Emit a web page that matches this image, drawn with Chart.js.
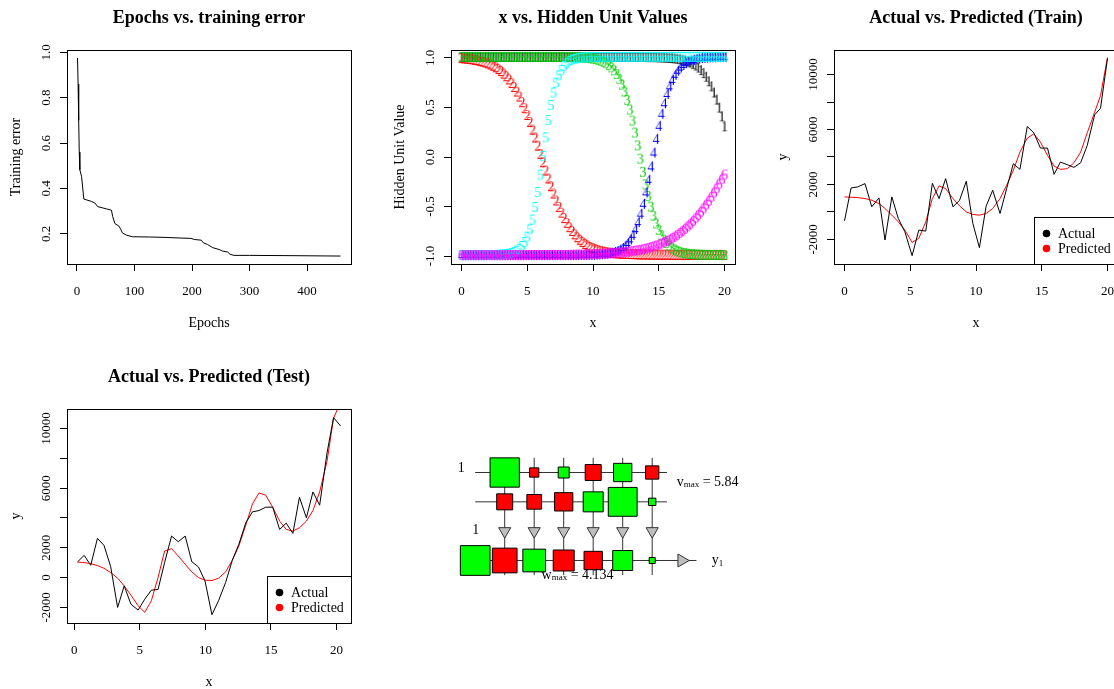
<!DOCTYPE html>
<html><head><meta charset="utf-8">
<script src="https://cdn.jsdelivr.net/npm/chart.js@4.4.1/dist/chart.umd.min.js"></script>
<style>
html,body{margin:0;padding:0;overflow:hidden;background:#fff;width:1114px;height:689px;position:relative;}
canvas{position:absolute;}
</style></head><body>
<canvas id="c1" width="384" height="359" style="left:0;top:0"></canvas>
<canvas id="c2" width="384" height="359" style="left:384px;top:0"></canvas>
<canvas id="c3" width="384" height="359" style="left:767px;top:0"></canvas>
<canvas id="c4" width="384" height="359" style="left:0;top:359px"></canvas>
<canvas id="c5" width="384" height="359" style="left:384px;top:359px"></canvas>
<script>
// ---------------- DATA ----------------
// Panel 1: epochs vs training error
const epochs = [1,2,3,4,5,8,12,16,25,31,36,45,51,60,62,66,73,76,79,86,97,126,155,184,198,204,216,220,227,236,247,253,262,266,273,300,360,458];
const trainError = [0.975,0.86,0.70,0.56,0.482,0.453,0.353,0.35,0.343,0.336,0.32,0.314,0.31,0.304,0.277,0.245,0.234,0.22,0.204,0.194,0.187,0.186,0.184,0.181,0.18,0.175,0.172,0.16,0.153,0.139,0.131,0.124,0.12,0.11,0.105,0.105,0.104,0.102];
const p1XTicks = [0,100,200,300,400];
const p1YTicks = [0.2,0.4,0.6,0.8,1.0];
const p1YLabels = ['0.2','0.4','0.6','0.8','1.0'];

// Panel 2: x vs hidden unit values
const hiddenX = [
0,0.2,0.4,0.6,0.8,1,1.2,1.4,1.6,1.8,
2,2.2,2.4,2.6,2.8,3,3.2,3.4,3.6,3.8,
4,4.2,4.4,4.6,4.8,5,5.2,5.4,5.6,5.8,
6,6.2,6.4,6.6,6.8,7,7.2,7.4,7.6,7.8,
8,8.2,8.4,8.6,8.8,9,9.2,9.4,9.6,9.8,
10,10.2,10.4,10.6,10.8,11,11.2,11.4,11.6,11.8,
12,12.2,12.4,12.6,12.8,13,13.2,13.4,13.6,13.8,
14,14.2,14.4,14.6,14.8,15,15.2,15.4,15.6,15.8,
16,16.2,16.4,16.6,16.8,17,17.2,17.4,17.6,17.8,
18,18.2,18.4,18.6,18.8,19,19.2,19.4,19.6,19.8,
20];
const hidden1 = [
1,1,1,1,1,1,1,1,1,1,
1,1,1,1,1,1,1,1,1,1,
1,1,1,1,1,1,1,1,1,1,
1,1,1,1,1,1,1,1,1,1,
1,1,1,1,1,1,1,1,1,1,
1,1,1,1,1,1,1,1,1,1,
1,1,1,1,1,1,1,1,1,1,
0.999,0.998,0.998,0.998,0.997,0.996,0.995,0.994,0.992,0.99,
0.988,0.985,0.982,0.977,0.971,0.964,0.955,0.944,0.93,0.914,
0.893,0.867,0.837,0.8,0.755,0.703,0.641,0.57,0.489,0.4,
0.3];
const hidden2 = [
0.988,0.985,0.983,0.98,0.976,0.971,0.967,0.96,0.953,0.945,
0.935,0.924,0.911,0.896,0.878,0.857,0.832,0.805,0.773,0.738,
0.697,0.651,0.6,0.543,0.482,0.414,0.343,0.266,0.187,0.105,
0.021,-0.063,-0.146,-0.227,-0.305,-0.379,-0.449,-0.513,-0.572,-0.626,
-0.674,-0.718,-0.756,-0.79,-0.82,-0.845,-0.867,-0.887,-0.903,-0.918,
-0.93,-0.941,-0.95,-0.957,-0.964,-0.969,-0.974,-0.977,-0.98,-0.982,
-0.984,-0.986,-0.987,-0.988,-0.989,-0.99,-0.991,-0.992,-0.993,-0.993,
-0.994,-0.994,-0.995,-0.995,-0.995,-0.996,-0.996,-0.996,-0.996,-0.996,
-0.997,-0.997,-0.997,-0.997,-0.997,-0.997,-0.997,-0.997,-0.997,-0.997,
-0.998,-0.998,-0.998,-0.998,-0.998,-0.998,-0.998,-0.998,-0.998,-0.998,
-0.998];
const hidden3 = [
1,1,1,1,1,1,1,1,1,1,
1,1,1,1,1,1,1,1,1,1,
1,1,1,1,1,1,1,1,1,1,
1,1,1,1,1,1,1,1,1,1,
0.999,0.998,0.998,0.997,0.997,0.996,0.994,0.992,0.99,0.987,
0.983,0.978,0.971,0.963,0.951,0.937,0.919,0.895,0.865,0.827,
0.78,0.721,0.651,0.567,0.469,0.358,0.236,0.107,-0.027,-0.16,
-0.287,-0.404,-0.51,-0.602,-0.681,-0.746,-0.8,-0.844,-0.878,-0.905,
-0.927,-0.943,-0.956,-0.967,-0.975,-0.98,-0.985,-0.988,-0.991,-0.993,
-0.995,-0.996,-0.997,-0.998,-0.998,-0.999,-0.999,-0.999,-0.999,-1,
-1];
const hidden4 = [
-1,-1,-1,-1,-1,-1,-1,-1,-1,-1,
-1,-1,-1,-1,-1,-1,-1,-1,-1,-1,
-1,-1,-1,-1,-1,-1,-1,-1,-1,-1,
-1,-1,-1,-1,-1,-1,-1,-1,-1,-1,
-1,-1,-1,-1,-1,-0.999,-0.999,-0.998,-0.998,-0.997,
-0.997,-0.996,-0.994,-0.992,-0.99,-0.986,-0.982,-0.976,-0.968,-0.958,
-0.945,-0.928,-0.906,-0.878,-0.841,-0.796,-0.738,-0.667,-0.582,-0.482,
-0.367,-0.24,-0.105,0.035,0.173,0.305,0.426,0.533,0.626,0.704,
0.768,0.82,0.861,0.893,0.918,0.937,0.952,0.964,0.972,0.979,
0.984,0.988,0.991,0.993,0.995,0.996,0.997,0.998,0.998,0.999,
0.999];
const hidden5 = [
-1,-1,-1,-1,-1,-1,-1,-1,-1,-1,
-0.999,-0.999,-0.999,-0.998,-0.997,-0.995,-0.993,-0.99,-0.986,-0.979,
-0.97,-0.956,-0.936,-0.909,-0.869,-0.814,-0.74,-0.641,-0.515,-0.363,
-0.188,0,0.188,0.363,0.515,0.641,0.74,0.814,0.869,0.909,
0.936,0.956,0.97,0.979,0.986,0.99,0.993,0.995,0.997,0.998,
0.998,0.999,0.999,0.999,0.999,0.999,0.999,0.999,0.999,0.999,
1,1,1,1,1,1,1,1,1,1,
1,1,1,1,1,1,1,1,1,1,
1,1,1,1,1,1,1,1,1,1,
1,1,1,1,1,1,1,1,1,1,
1];
const hidden6 = [
-1,-1,-1,-1,-1,-1,-1,-1,-1,-1,
-1,-1,-1,-1,-1,-1,-1,-1,-1,-1,
-1,-1,-1,-1,-1,-0.999,-0.999,-0.999,-0.999,-0.999,
-0.999,-0.999,-0.999,-0.999,-0.999,-0.998,-0.998,-0.998,-0.998,-0.998,
-0.998,-0.997,-0.997,-0.996,-0.996,-0.995,-0.995,-0.994,-0.993,-0.992,
-0.991,-0.99,-0.989,-0.988,-0.986,-0.985,-0.983,-0.982,-0.98,-0.977,
-0.975,-0.973,-0.97,-0.967,-0.963,-0.959,-0.955,-0.951,-0.946,-0.94,
-0.934,-0.927,-0.92,-0.911,-0.903,-0.893,-0.882,-0.871,-0.859,-0.845,
-0.83,-0.814,-0.796,-0.777,-0.756,-0.734,-0.71,-0.684,-0.657,-0.628,
-0.596,-0.563,-0.528,-0.491,-0.452,-0.412,-0.369,-0.325,-0.28,-0.233,
-0.185];
const hiddenSymbols = ['1','2','3','4','5','6'];
const p2XTicks = [0,5,10,15,20];
const p2YTicks = [-1,-0.5,0,0.5,1];
const p2YLabels = ['-1.0','-0.5','0.0','0.5','1.0'];

// Panel 3: training set
const trainX = [0,0.5,1.0,1.56,2.07,2.62,3.08,3.6,4.09,4.59,5.14,5.65,6.18,6.68,7.19,7.69,8.25,8.75,9.26,9.76,10.26,10.77,11.27,11.83,12.33,12.84,13.34,13.9,14.4,14.9,15.44,15.94,16.42,16.95,17.45,17.96,18.46,19.02,19.47,20];
const trainActual = [-653,1741,1814,2055,363,1016,-2055,1088,-484,-1451,-3192,-1330,-1402,2079,967,2418,363,846,2225,-846,-2611,411,1572,-121,1693,3506,3095,6214,5755,4643,4643,2732,3627,3434,3240,3579,4836,7061,7544,11171];
const trainPredicted = [1088,1064,1040,967,846,605,242,-242,-725,-1330,-2225,-1934,-725,967,1886,1693,967,435,0,-193,-242,-121,242,967,1934,3023,4352,5368,5682,5078,4111,3337,3095,3143,3579,4352,5755,7254,8463,11243];
const p3YTicks = [-2000,0,2000,4000,6000,8000,10000];
const p3YLabels = ['-2000','','2000','','6000','','10000'];

// Panel 4: test set
const testX = [0.25,0.76,1.26,1.77,2.27,2.78,3.31,3.81,4.32,4.87,5.38,5.88,6.39,6.89,7.42,7.93,8.46,8.96,9.47,9.97,10.5,11.0,11.54,12.05,12.55,13.08,13.59,14.09,14.6,15.13,15.66,16.16,16.67,17.17,17.7,18.2,18.71,19.27,19.77,20.3];
const testActual = [1047,1492,824,2628,2160,735,-2004,-557,-1782,-2182,-1448,-846,-802,1002,2784,2405,2784,1069,713,-223,-2494,-1559,-334,1158,2227,3675,4409,4498,4721,4721,3229,3652,2962,5389,4009,5746,4855,8351,10734,10177];
const testPredicted = [1047,1002,935,802,624,334,-45,-557,-1180,-1893,-2338,-1559,0,1782,1937,1448,891,379,0,-178,-200,-45,379,1158,2116,3519,4944,5679,5523,4721,3786,3229,3118,3341,3786,4498,5746,7795,10690,11760];
const p4YTicks = [-2000,0,2000,4000,6000,8000,10000];
const p4YLabels = ['-2000','0','2000','','6000','','10000'];
const xyXTicks = [0,5,10,15,20];

// Panel 5: network weights
const biasWeights = [5.84,-1.85,2.19,-3.19,3.65,-2.65];
const inputWeights = [-3.19,-2.93,-3.65,3.99,5.75,1.46];
const outputWeights = [4.134,-3.44,3.16,-2.92,-2.55,2.78,0.84];
const vMax = 5.84;
const wMax = 4.134;

// ---------------- RENDERING ----------------
const FONT = '"Liberation Serif","DejaVu Serif",serif';
Chart.defaults.font.family = FONT;
const unitColors = ['#000000','#FF0000','#00CD00','#0000FF','#00FFFF','#FF00FF'];

function pts(xs, ys){ return xs.map((x,i)=>({x:x, y:ys[i]})); }

function framePlugin(cfg){
  return {
    id:'rframe',
    afterDraw(chart){
      const ctx = chart.ctx, a = chart.chartArea, xs = chart.scales.x, ys = chart.scales.y;
      ctx.save();
      ctx.strokeStyle = '#000'; ctx.lineWidth = 1;
      ctx.strokeRect(Math.round(a.left)+0.5, Math.round(a.top)+0.5, Math.round(a.right-a.left), Math.round(a.bottom-a.top));
      ctx.fillStyle = '#000';
      ctx.textAlign = 'center'; ctx.textBaseline = 'middle';
      ctx.font = '13px ' + FONT;
      cfg.xTicks.forEach((v,i)=>{ ctx.fillText(String(v), xs.getPixelForValue(v), a.bottom + 28); });
      cfg.yTicks.forEach((v,i)=>{
        const py = ys.getPixelForValue(v);
        ctx.save(); ctx.translate(a.left - 20, py); ctx.rotate(-Math.PI/2);
        ctx.fillText(cfg.yLabels[i], 0, 0); ctx.restore();
      });
      ctx.font = 'bold 18px ' + FONT;
      ctx.fillText(cfg.title, (a.left + a.right)/2, 18);
      ctx.font = '14px ' + FONT;
      ctx.fillText(cfg.xTitle, (a.left + a.right)/2, a.bottom + 59);
      ctx.save(); ctx.translate(a.left - 51, (a.top + a.bottom)/2); ctx.rotate(-Math.PI/2);
      ctx.fillText(cfg.yTitle, 0, 0); ctx.restore();
      if (cfg.legend){
        const bw = 84, bh = 47;
        const bx = Math.round(a.right) - bw, by = Math.round(a.bottom) - bh;
        ctx.fillStyle = '#fff'; ctx.fillRect(bx, by, bw, bh);
        ctx.strokeRect(bx + 0.5, by + 0.5, bw, bh);
        ctx.font = '14px ' + FONT; ctx.textAlign = 'left';
        chart.data.datasets.forEach((d,i)=>{
          const cy = by + 16.5 + i*15;
          ctx.fillStyle = d.borderColor;
          ctx.beginPath(); ctx.arc(bx + 12.5, cy, 3.8, 0, Math.PI*2); ctx.fill();
          ctx.fillStyle = '#000';
          ctx.fillText(d.label, bx + 24, cy + 1);
        });
      }
      ctx.restore();
    }
  };
}

function frameOptions(cfg){
  const grid = {drawOnChartArea:false, drawTicks:true, tickLength:7, color:'#000', lineWidth:1};
  return {
    responsive:false, animation:false, devicePixelRatio:1,
    layout:{autoPadding:false, padding:{left:0, top:50, right:33, bottom:0}},
    plugins:{legend:{display:false}, tooltip:{enabled:false}, title:{display:false}},
    scales:{
      x:{type:'linear', min:cfg.xMin, max:cfg.xMax,
         afterFit:s=>{ s.height = 95; },
         afterBuildTicks:s=>{ s.ticks = cfg.xTicks.map(v=>({value:v})); },
         grid:grid, border:{display:false}, ticks:{display:false}},
      y:{type:'linear', min:cfg.yMin, max:cfg.yMax,
         afterFit:s=>{ s.width = 67; },
         afterBuildTicks:s=>{ s.ticks = cfg.yTicks.map(v=>({value:v})); },
         grid:grid, border:{display:false}, ticks:{display:false}}
    }
  };
}

function lineDs(label, xs, ys, color){
  return {label:label, data:pts(xs,ys), showLine:true, borderColor:color, backgroundColor:color,
          borderWidth:1, pointRadius:0, tension:0};
}

// Panel 1
const cfg1 = {title:'Epochs vs. training error', xTitle:'Epochs', yTitle:'Training error',
  xMin:-17.3, xMax:476.3, yMin:0.067, yMax:1.01, xTicks:p1XTicks, yTicks:p1YTicks, yLabels:p1YLabels};
new Chart(document.getElementById('c1'), {
  type:'scatter',
  data:{datasets:[lineDs('Training error', epochs, trainError, '#000')]},
  options:frameOptions(cfg1), plugins:[framePlugin(cfg1)]
});

// Panel 2
function glyph(ch, color){
  const c = document.createElement('canvas'); c.width = 12; c.height = 18;
  const g = c.getContext('2d');
  g.font = '14px ' + FONT; g.fillStyle = color; g.textAlign = 'center'; g.textBaseline = 'middle';
  g.fillText(ch, 6, 9.5);
  return c;
}
const hiddenSeries = [hidden1, hidden2, hidden3, hidden4, hidden5, hidden6];
const cfg2 = {title:'x vs. Hidden Unit Values', xTitle:'x', yTitle:'Hidden Unit Value',
  xMin:-0.8, xMax:20.8, yMin:-1.08, yMax:1.08, xTicks:p2XTicks, yTicks:p2YTicks, yLabels:p2YLabels};
new Chart(document.getElementById('c2'), {
  type:'scatter',
  data:{datasets: hiddenSeries.map((ys,k)=>({
    label:'Hidden ' + hiddenSymbols[k], data:pts(hiddenX, ys), showLine:false,
    pointStyle:glyph(hiddenSymbols[k], unitColors[k]), pointRadius:3, order:6-k
  }))},
  options:frameOptions(cfg2), plugins:[framePlugin(cfg2)]
});

// Panel 3
const cfg3 = {title:'Actual vs. Predicted (Train)', xTitle:'x', yTitle:'y', legend:true,
  xMin:-0.8, xMax:20.8, yMin:-3800, yMax:11790, xTicks:xyXTicks, yTicks:p3YTicks, yLabels:p3YLabels};
new Chart(document.getElementById('c3'), {
  type:'scatter',
  data:{datasets:[lineDs('Actual', trainX, trainActual, '#000000'), lineDs('Predicted', trainX, trainPredicted, '#FF0000')]},
  options:frameOptions(cfg3), plugins:[framePlugin(cfg3)]
});

// Panel 4
const cfg4 = {title:'Actual vs. Predicted (Test)', xTitle:'x', yTitle:'y', legend:true,
  xMin:-0.55, xMax:21.1, yMin:-3050, yMax:11310, xTicks:xyXTicks, yTicks:p4YTicks, yLabels:p4YLabels};
new Chart(document.getElementById('c4'), {
  type:'scatter',
  data:{datasets:[lineDs('Actual', testX, testActual, '#000000'), lineDs('Predicted', testX, testPredicted, '#FF0000')]},
  options:frameOptions(cfg4), plugins:[framePlugin(cfg4)]
});

// Panel 5: network diagram
const ROW_BIAS = 3, ROW_INPUT = 2, ROW_TRI = 1, ROW_OUT = 0;
const nHidden = biasWeights.length;
const sideV = 29.3 / vMax, sideW = 29.7 / wMax;
function squares(weights, row, firstCol, pxPerUnit){
  return {data:weights.map((w,i)=>({x:firstCol+i, y:row})), showLine:false, pointStyle:'rect',
    pointRadius:weights.map(w=>Math.abs(w)*pxPerUnit/Math.SQRT2),
    pointBackgroundColor:weights.map(w=> w >= 0 ? '#00FF00' : '#FF0000'),
    pointBorderColor:'#000', pointBorderWidth:1, order:1};
}
function segment(x1,y1,x2,y2){
  return {data:[{x:x1,y:y1},{x:x2,y:y2}], showLine:true, borderColor:'#333', borderWidth:1, pointRadius:0, order:10};
}
const netSets = [];
biasWeights.forEach((w,i)=>{ netSets.push(segment(i+1, ROW_OUT-0.5, i+1, ROW_BIAS+0.5)); });
netSets.push(segment(0, ROW_BIAS, nHidden+0.5, ROW_BIAS));
netSets.push(segment(0, ROW_INPUT, nHidden+0.5, ROW_INPUT));
netSets.push(segment(0, ROW_OUT, nHidden+1.5, ROW_OUT));
netSets.push({data:biasWeights.map((w,i)=>({x:i+1, y:ROW_TRI})), showLine:false, pointStyle:'triangle',
  pointRotation:180, pointRadius:7, pointBackgroundColor:'#BEBEBE', pointBorderColor:'#333', pointBorderWidth:1, order:2});
netSets.push({data:[{x:nHidden+1, y:ROW_OUT}], showLine:false, pointStyle:'triangle',
  pointRotation:90, pointRadius:7.5, pointBackgroundColor:'#BEBEBE', pointBorderColor:'#333', pointBorderWidth:1, order:2});
netSets.push(squares(biasWeights, ROW_BIAS, 1, sideV));
netSets.push(squares(inputWeights, ROW_INPUT, 1, sideV));
netSets.push(squares(outputWeights, ROW_OUT, 0, sideW));

const netText = {
  id:'nettext',
  afterDraw(chart){
    const ctx = chart.ctx, xs = chart.scales.x, ys = chart.scales.y;
    const X = v => xs.getPixelForValue(v), Y = v => ys.getPixelForValue(v);
    ctx.save(); ctx.fillStyle = '#000'; ctx.textBaseline = 'middle';
    ctx.font = '14px ' + FONT; ctx.textAlign = 'center';
    ctx.fillText('1', X(-0.47), Y(ROW_BIAS + 0.14));
    ctx.fillText('1', X(0.02), Y(ROW_TRI + 0.02));
    function sub(main, s, rest, x, y){
      ctx.textAlign = 'left';
      ctx.font = '14px ' + FONT; ctx.fillText(main, x, y);
      let w = ctx.measureText(main).width;
      ctx.font = '9px ' + FONT; ctx.fillText(s, x + w, y + 3);
      w += ctx.measureText(s).width;
      ctx.font = '14px ' + FONT; ctx.fillText(rest, x + w, y);
    }
    sub('v', 'max', ' = ' + vMax.toFixed(2), X(6.83), Y(ROW_BIAS - 0.32));
    sub('w', 'max', ' = ' + wMax.toFixed(3), X(2.25), Y(ROW_OUT - 0.49));
    sub('y', '1', '', X(nHidden + 2.02), Y(ROW_OUT));
    ctx.restore();
  }
};
new Chart(document.getElementById('c5'), {
  type:'scatter',
  data:{datasets:netSets},
  options:{responsive:false, animation:false, devicePixelRatio:1,
    layout:{autoPadding:false, padding:0},
    plugins:{legend:{display:false}, tooltip:{enabled:false}},
    scales:{x:{type:'linear', display:false, min:-3.0915, max:9.9254},
            y:{type:'linear', display:false, min:-5.370, max:6.870}}},
  plugins:[netText]
});
</script>
</body></html>
